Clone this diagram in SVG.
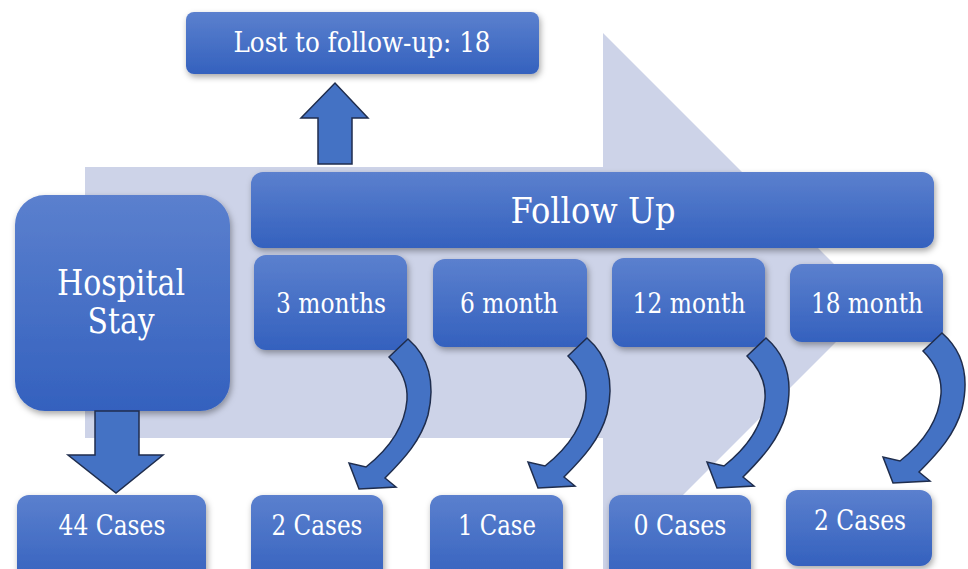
<svg xmlns="http://www.w3.org/2000/svg" xmlns:xlink="http://www.w3.org/1999/xlink" width="968" height="569" viewBox="0 0 968 569">
<defs>
<linearGradient id="boxGrad" x1="0" y1="0" x2="0" y2="1">
<stop offset="0" stop-color="#5B80CE"/>
<stop offset="1" stop-color="#3461BE"/>
</linearGradient>
<filter id="shadow" x="-10%" y="-10%" width="125%" height="135%">
<feDropShadow dx="1.5" dy="3" stdDeviation="3" flood-color="#000" flood-opacity="0.35"/>
</filter>
<path id="curved" d="M 389,357 C 402,370 408,385 407,400 C 405,425 390,448 366,467 L 349,463 L 359,489 L 396,487 L 385,478 C 405,458 421,440 428,415 C 435,385 430,358 408,339 Z"/>
<style>
.box { fill: url(#boxGrad); filter: url(#shadow); }
.lbl { fill: #FFFFFF; text-anchor: middle; font-family: "DejaVu Serif", "Liberation Serif", serif; }
.sm { font-size: 27px; }
.lg { font-size: 34.5px; }
.arr { fill: #4472C4; stroke: #1F2D4D; stroke-width: 1.5; stroke-linejoin: miter; }
</style>
</defs>
<rect width="968" height="569" fill="#FFFFFF"/>
<g id="background-arrow">
<polygon points="85,167 603,167 603,33 874,304 603,575 603,438 85,438" fill="#CDD3E8"/>
</g>
<g id="lost">
<rect class="box" x="186" y="12" width="353" height="62" rx="8"/>
<text class="lbl sm" x="362" y="52" textLength="257" lengthAdjust="spacingAndGlyphs">Lost to follow-up: 18</text>
</g>
<g id="followup">
<rect class="box" x="251" y="172" width="683" height="76" rx="12"/>
<text class="lbl lg" x="593" y="223" textLength="165" lengthAdjust="spacingAndGlyphs">Follow Up</text>
</g>
<g id="hospital">
<rect class="box" x="15" y="195" width="215" height="216" rx="30"/>
<text class="lbl lg" x="121" y="295" textLength="128" lengthAdjust="spacingAndGlyphs">Hospital</text>
<text class="lbl lg" x="121" y="333" textLength="67" lengthAdjust="spacingAndGlyphs">Stay</text>
</g>
<g id="m3">
<rect class="box" x="254" y="255" width="153" height="95" rx="12"/>
<text class="lbl sm" x="331" y="313" textLength="110" lengthAdjust="spacingAndGlyphs">3 months</text>
</g>
<g id="m6">
<rect class="box" x="433" y="259" width="154" height="88" rx="12"/>
<text class="lbl sm" x="509" y="313" textLength="98" lengthAdjust="spacingAndGlyphs">6 month</text>
</g>
<g id="m12">
<rect class="box" x="612" y="258" width="153" height="89" rx="12"/>
<text class="lbl sm" x="689" y="313" textLength="113" lengthAdjust="spacingAndGlyphs">12 month</text>
</g>
<g id="m18">
<rect class="box" x="790" y="264" width="153" height="78" rx="12"/>
<text class="lbl sm" x="867" y="313" textLength="112" lengthAdjust="spacingAndGlyphs">18 month</text>
</g>
<g id="c44">
<rect class="box" x="17" y="495" width="189" height="90" rx="12"/>
<text class="lbl sm" x="112" y="535" textLength="107" lengthAdjust="spacingAndGlyphs">44 Cases</text>
</g>
<g id="c3">
<rect class="box" x="251" y="495" width="132" height="90" rx="12"/>
<text class="lbl sm" x="317" y="535" textLength="91" lengthAdjust="spacingAndGlyphs">2 Cases</text>
</g>
<g id="c6">
<rect class="box" x="430" y="495" width="133" height="90" rx="12"/>
<text class="lbl sm" x="497" y="535" textLength="78" lengthAdjust="spacingAndGlyphs">1 Case</text>
</g>
<g id="c12">
<rect class="box" x="609" y="495" width="142" height="90" rx="12"/>
<text class="lbl sm" x="680" y="535" textLength="93" lengthAdjust="spacingAndGlyphs">0 Cases</text>
</g>
<g id="c18">
<rect class="box" x="786" y="490" width="146" height="76" rx="12"/>
<text class="lbl sm" x="860" y="530" textLength="92" lengthAdjust="spacingAndGlyphs">2 Cases</text>
</g>
<g id="connectors">
<polygon class="arr" points="318,164 318,118 301,118 335,83 368,118 352,118 352,164"/>
<polygon class="arr" points="95,411 139,411 139,455 163,455 116,493 68,455 95,455"/>
<use xlink:href="#curved" class="arr"/>
<use xlink:href="#curved" class="arr" transform="translate(179,-1)"/>
<use xlink:href="#curved" class="arr" transform="translate(358,-1)"/>
<use xlink:href="#curved" class="arr" transform="translate(534,-6)"/>
</g>
</svg>
